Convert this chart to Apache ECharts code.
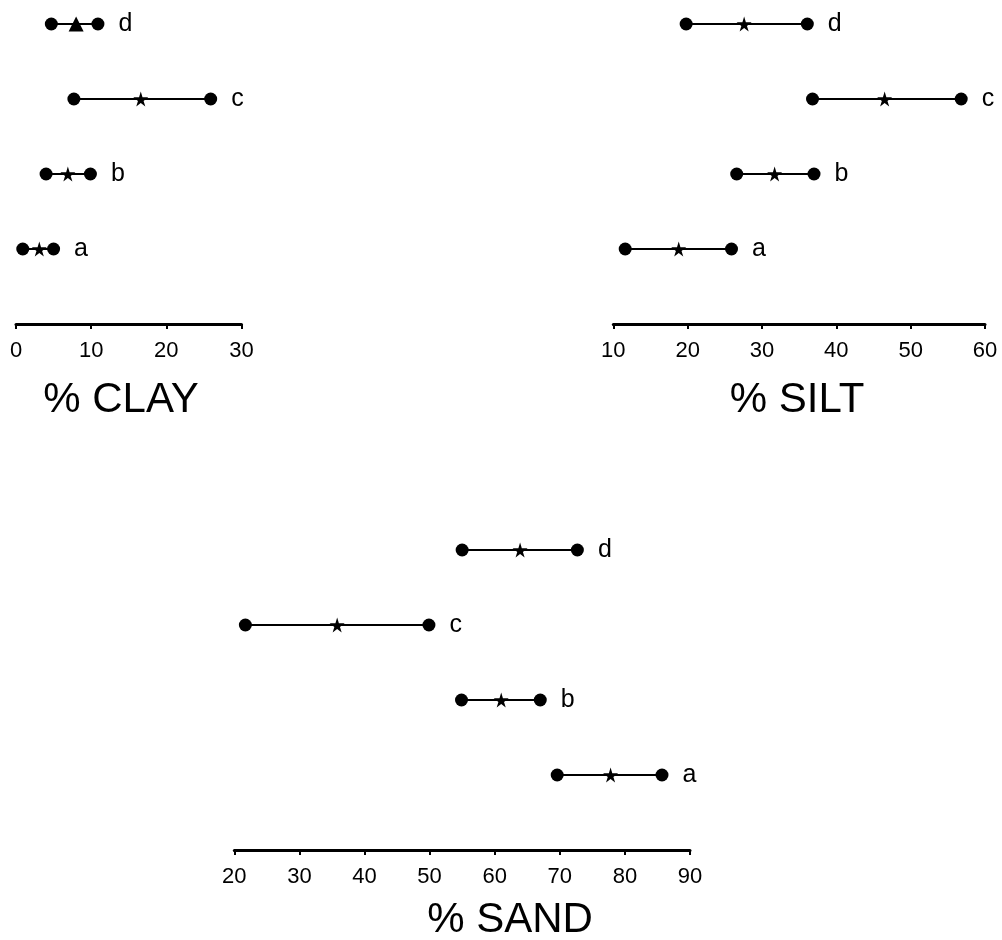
<!DOCTYPE html>
<html>
<head>
<meta charset="utf-8">
<title>Clay, silt and sand ranges</title>
<script src="https://cdn.jsdelivr.net/npm/echarts@6/dist/echarts.min.js"></script>
<style>
  html, body { margin: 0; padding: 0; background: #fff; }
  #chart { width: 1002px; height: 940px; }
</style>
</head>
<body>
<div id="chart"></div>
<script>
// sample rows, bottom to top
const rows = ['a', 'b', 'c', 'd'];

// % clay: low, mean, high
const clayLow = [0.9, 4.0, 7.7, 4.7];
const clayMid = [3.1, 6.9, 16.6, 8.0];
const clayHigh = [5.0, 9.9, 25.9, 10.9];
const clayTicks = [0, 30];

// % silt
const siltLow = [11.6, 26.6, 36.8, 19.8];
const siltMid = [18.8, 31.7, 46.5, 27.6];
const siltHigh = [25.9, 37.0, 56.8, 36.1];
const siltTicks = [10, 60];

// % sand
const sandLow = [69.6, 54.9, 21.7, 55.0];
const sandMid = [77.8, 61.0, 35.8, 63.9];
const sandHigh = [85.7, 67.0, 49.9, 72.7];
const sandTicks = [20, 90];

const FONT = 'Liberation Sans';
const STAR = 'path://M50,0 L61,35 L98,35 L68,57 L79,91 L50,70 L21,91 L32,57 L2,35 L39,35 Z';

function makeAxis(idx, ticks) {
    return {
        gridIndex: idx,
        type: 'value',
        min: ticks[0],
        max: ticks[1],
        interval: 10,
        splitLine: { show: false },
        axisLine: { show: true, lineStyle: { color: '#000', width: 3 } },
        axisTick: { show: true, length: 5, lineStyle: { color: '#000', width: 2 } },
        axisLabel: { color: '#000', fontSize: 22, fontFamily: FONT, margin: 16 }
    };
}

function makeSeries(idx, low, mid, high, midShape) {
    const out = [];
    rows.forEach((r, i) => {
        out.push({
            type: 'line',
            xAxisIndex: idx,
            yAxisIndex: idx,
            clip: false,
            symbol: 'circle',
            symbolSize: 13,
            itemStyle: { color: '#000', opacity: 1 },
            lineStyle: { color: '#000', width: 2 },
            data: [
                { value: [low[i], i + 1] },
                {
                    value: [high[i], i + 1],
                    label: {
                        show: true,
                        position: 'right',
                        distance: 14,
                        formatter: r,
                        color: '#000',
                        fontSize: 25,
                        fontFamily: FONT
                    }
                }
            ],
            z: 2
        });
    });
    out.push({
        type: 'scatter',
        xAxisIndex: idx,
        yAxisIndex: idx,
        clip: false,
        symbolSize: 15,
        itemStyle: { color: '#000', opacity: 1 },
        data: mid.map((v, i) => ({
            value: [v, i + 1],
            symbol: midShape ? midShape(rows[i]) : STAR
        })),
        z: 3
    });
    return out;
}

const chartDom = document.getElementById('chart');
const chart = echarts.init(chartDom);

const option = {
    animation: false,
    backgroundColor: '#fff',
    grid: [
        { left: 16, top: 24, width: 225.5, height: 300 },
        { left: 613.3, top: 24, width: 371.7, height: 300 },
        { left: 234.3, top: 550, width: 455.7, height: 300 }
    ],
    xAxis: [
        makeAxis(0, clayTicks),
        makeAxis(1, siltTicks),
        makeAxis(2, sandTicks)
    ],
    yAxis: [0, 1, 2].map(i => ({ gridIndex: i, type: 'value', min: 0, max: 4, show: false })),
    series: [
        ...makeSeries(0, clayLow, clayMid, clayHigh, r => (r === 'd' ? 'triangle' : STAR)),
        ...makeSeries(1, siltLow, siltMid, siltHigh),
        ...makeSeries(2, sandLow, sandMid, sandHigh)
    ],
    graphic: [
        { type: 'text', style: { text: '% CLAY', x: 121, y: 400, textAlign: 'center', textVerticalAlign: 'middle', font: '42px "Liberation Sans"', fill: '#000' } },
        { type: 'text', style: { text: '% SILT', x: 797, y: 400, textAlign: 'center', textVerticalAlign: 'middle', font: '42px "Liberation Sans"', fill: '#000' } },
        { type: 'text', style: { text: '% SAND', x: 510, y: 920, textAlign: 'center', textVerticalAlign: 'middle', font: '42px "Liberation Sans"', fill: '#000' } }
    ]
};

chart.setOption(option);

window.addEventListener('resize', () => {
    chart.resize();
});
</script>
</body>
</html>
